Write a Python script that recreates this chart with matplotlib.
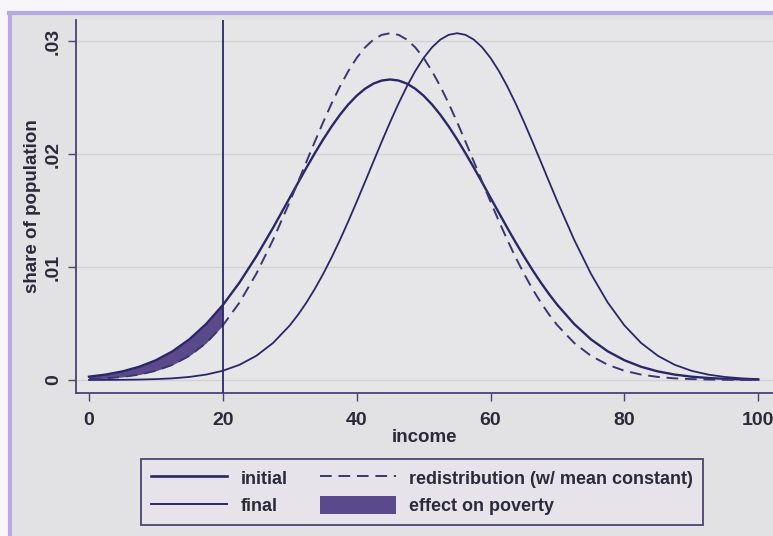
import matplotlib.pyplot as plt
from matplotlib.lines import Line2D
from matplotlib.patches import Patch

plt.rcParams['font.family'] = ['Liberation Sans', 'DejaVu Sans']

# income grid and densities
income = [0, 2.5, 5, 7.5, 10, 12.5, 15, 17.5, 20, 22.5, 25, 27.5, 30,
          31.25, 32.5, 33.75, 35, 36.25, 37.5, 38.75, 40, 41.25, 42.5, 43.75, 45,
          46.25, 47.5, 48.75, 50, 51.25, 52.5, 53.75, 55, 56.25, 57.5, 58.75, 60,
          61.25, 62.5, 63.75, 65, 66.25, 67.5, 68.75, 70,
          72.5, 75, 77.5, 80, 82.5, 85, 87.5, 90, 92.5, 95, 97.5, 100]
initial = [0.000295, 0.000480, 0.000760, 0.001169, 0.001748, 0.002543, 0.003599, 0.004954,
           0.006632, 0.008634, 0.010934, 0.013466, 0.016131,
           0.017472, 0.018795, 0.020076, 0.021297, 0.022435, 0.023471, 0.024385, 0.025159,
           0.025778, 0.026229, 0.026504, 0.026596,
           0.026504, 0.026229, 0.025778, 0.025159, 0.024385, 0.023471, 0.022435, 0.021297,
           0.020076, 0.018795, 0.017472, 0.016131,
           0.014790, 0.013466, 0.012176, 0.010934, 0.009750, 0.008634, 0.007594, 0.006632,
           0.004954, 0.003599, 0.002543, 0.001748, 0.001169, 0.000760, 0.000480, 0.000295,
           0.000177, 0.000103, 0.000058, 0.000032]
redistribution = [0.000077, 0.000147, 0.000270, 0.000479, 0.000818, 0.001348, 0.002141,
                  0.003275, 0.004830, 0.006863, 0.009398, 0.012400, 0.015772,
                  0.017541, 0.019329, 0.021104, 0.022828, 0.024468, 0.025983, 0.027339,
                  0.028501, 0.029437, 0.030126, 0.030547, 0.030688,
                  0.030547, 0.030126, 0.029437, 0.028501, 0.027339, 0.025983, 0.024468,
                  0.022828, 0.021104, 0.019329, 0.017541, 0.015772,
                  0.014050, 0.012400, 0.010845, 0.009398, 0.008068, 0.006863, 0.005783,
                  0.004830,
                  0.003275, 0.002141, 0.001348, 0.000818, 0.000479, 0.000270,
                  0.000147, 0.000077, 0.000039, 0.000019, 0.000009, 0.000004]
final = [0.000004, 0.000009, 0.000019, 0.000039, 0.000077, 0.000147, 0.000270, 0.000479,
         0.000818, 0.001348, 0.002141, 0.003275, 0.004830,
         0.005783, 0.006863, 0.008068, 0.009398, 0.010845, 0.012400, 0.014050, 0.015772,
         0.017541, 0.019329, 0.021104, 0.022828,
         0.024468, 0.025983, 0.027339, 0.028501, 0.029437, 0.030126, 0.030547, 0.030688,
         0.030547, 0.030126, 0.029437, 0.028501,
         0.027339, 0.025983, 0.024468, 0.022828, 0.021104, 0.019329, 0.017541, 0.015772,
         0.012400, 0.009398, 0.006863, 0.004830, 0.003275, 0.002141, 0.001348, 0.000818,
         0.000479, 0.000270, 0.000147, 0.000077]
poverty_line = 20
xticks = [0, 20, 40, 60, 80, 100]
yticks = [0, 0.01, 0.02, 0.03]
ytick_labels = ['0', '.01', '.02', '.03']

line_col = '#2a2768'
fill_col = '#5a4a8c'
txt_col = '#2a2a3a'
dash = (0, (6, 3.5))

fig = plt.figure(figsize=(7.73, 5.36), dpi=100, facecolor='#e2e2e4')
ax = fig.add_axes([0.0983, 0.2668, 0.9017, 0.6959])
ax.set_facecolor('#e6e6e8')

# frame of the screenshot
fig.patches.append(plt.Rectangle((0, 0.975), 1, 0.025, transform=fig.transFigure,
                                 facecolor='#f8f6fa', edgecolor='none', zorder=-1))
fig.patches.append(plt.Rectangle((0, 0), 0.011, 1, transform=fig.transFigure,
                                 facecolor='#f8f6fa', edgecolor='none', zorder=-1))
fig.add_artist(Line2D([0.011, 1], [0.975, 0.975], color='#b9a8e0', lw=3))
fig.add_artist(Line2D([0.013, 0.013], [0, 0.975], color='#b9a8e0', lw=3))

for y in yticks:
    ax.axhline(y, color='#d2d2d6', lw=1, zorder=0)

mask = [x <= poverty_line for x in income]
xs = [x for x, m in zip(income, mask) if m]
top = [v for v, m in zip(initial, mask) if m]
bot = [v for v, m in zip(redistribution, mask) if m]
ax.fill_between(xs, bot, top, color=fill_col, lw=0, zorder=2)

ax.plot(income, initial, color=line_col, lw=1.7, zorder=3)
ax.plot(income, final, color=line_col, lw=1.3, zorder=3)
ax.plot(income, redistribution, color='#3a3670', lw=1.4, ls=dash, zorder=3)
ax.axvline(poverty_line, color=line_col, lw=1.3, zorder=3)

ax.set_xlim(-1.94, 102.2)
ax.set_ylim(-0.00115, 0.03186)
ax.set_xticks(xticks)
ax.set_yticks(yticks)
ax.set_yticklabels(ytick_labels, rotation=90, va='center')
ax.tick_params(direction='out', length=6, width=1, color='#4a4470', labelsize=14,
               labelcolor=txt_col)
ax.tick_params(axis='x', pad=8)
ax.tick_params(axis='y', pad=4)
for lab in ax.get_xticklabels() + ax.get_yticklabels():
    lab.set_fontweight('bold')
for side in ['top', 'right']:
    ax.spines[side].set_visible(False)
for side in ['left', 'bottom']:
    ax.spines[side].set_color('#4a4470')
    ax.spines[side].set_linewidth(1.3)

ax.set_xlabel('income', fontsize=13.5, fontweight='bold', color=txt_col, labelpad=0)
ax.set_ylabel('share of population', fontsize=13.5, fontweight='bold', color=txt_col,
              labelpad=3)

handles = [Line2D([], [], color=line_col, lw=1.9),
           Line2D([], [], color=line_col, lw=1.4),
           Line2D([], [], color='#3a3670', lw=1.4, ls=dash),
           Patch(facecolor=fill_col, edgecolor='none')]
labels = ['initial', 'final', 'redistribution (w/ mean constant)', 'effect on poverty']
leg = fig.legend(handles, labels, ncol=2, loc='center', bbox_to_anchor=(0.546, 0.082),
                 frameon=True, fancybox=False, facecolor='#e6e4ea', edgecolor='#4a4470',
                 prop={'weight': 'bold', 'size': 13}, handlelength=4.2,
                 handleheight=1.15, columnspacing=1.8, handletextpad=0.75,
                 borderpad=0.55, labelspacing=0.45, framealpha=1)
leg.get_frame().set_linewidth(1.3)
for t in leg.get_texts():
    t.set_color(txt_col)

fig.savefig('out.png', dpi=100, facecolor=fig.get_facecolor())
